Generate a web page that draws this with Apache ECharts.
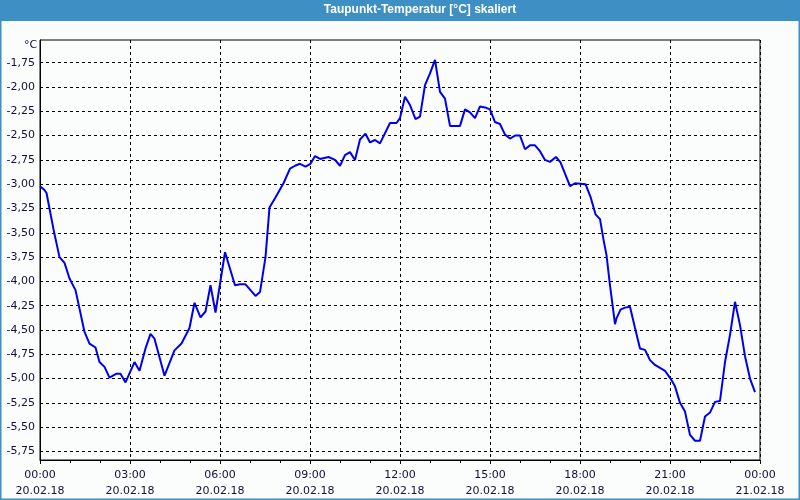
<!DOCTYPE html>
<html>
<head>
<meta charset="utf-8">
<script src="https://cdn.jsdelivr.net/npm/echarts@6/dist/echarts.min.js"></script>
<style>
html,body{margin:0;padding:0;background:#fbfdfc;}
#chart{width:800px;height:500px;}
</style>
</head>
<body>
<div id="chart"></div>
<script>
// minutes since 20.02.18 00:00
const times = [0,9,13,19,28,39,49,59,71,79,89,99,111,119,129,139,153,161,171,189,199,211,221,229,249,269,283,299,309,321,331,341,351,370,
390,400,411,431,440,451,459,470,487,500,510,520,531,541,550,560,577,590,600,610,620,630,640,651,660,670,680,700,713,
720,730,740,751,760,770,780,790,800,810,820,830,840,850,860,870,880,890,900,910,920,930,940,950,960,970,980,990,1000,1010,1020,1032,1041,1050,1060,1070,
1091,1101,1111,1120,1127,1133,1140,1145,1150,1153,1161,1170,1180,1190,1200,1210,1220,1230,1240,1250,1261,1270,1280,1290,1300,1310,1320,1330,1340,1350,1360,1370,1380,1390,1400,1410,1420,1430];
const values = [-3.02,-3.06,-3.09,-3.25,-3.49,-3.75,-3.81,-3.97,-4.09,-4.28,-4.52,-4.64,-4.68,-4.83,-4.88,-4.99,-4.95,-4.95,-5.04,-4.83,-4.92,-4.69,-4.54,-4.59,-4.97,-4.71,-4.64,-4.48,-4.22,-4.37,-4.31,-4.04,-4.32,-3.70,
-4.04,-4.03,-4.03,-4.15,-4.11,-3.75,-3.24,-3.145,-2.99,-2.84,-2.81,-2.79,-2.82,-2.79,-2.71,-2.74,-2.72,-2.75,-2.81,-2.70,-2.67,-2.75,-2.54,-2.48,-2.57,-2.545,-2.58,-2.37,-2.37,
-2.32,-2.10,-2.185,-2.33,-2.305,-1.98,-1.86,-1.72,-2.05,-2.12,-2.40,-2.40,-2.40,-2.23,-2.26,-2.32,-2.20,-2.21,-2.23,-2.36,-2.38,-2.49,-2.53,-2.50,-2.50,-2.64,-2.60,-2.60,-2.66,-2.75,-2.77,-2.72,-2.775,-2.89,-3.02,-2.99,
-3.00,-3.13,-3.31,-3.36,-3.57,-3.73,-4.04,-4.24,-4.44,-4.38,-4.29,-4.27,-4.26,-4.48,-4.69,-4.705,-4.81,-4.86,-4.89,-4.92,-5.00,-5.08,-5.25,-5.34,-5.58,-5.64,-5.64,-5.39,-5.35,-5.24,-5.23,-4.83,-4.55,-4.21,-4.45,-4.77,-5.00,-5.14];
const yTicks = [-5.75,-5.5,-5.25,-5.0,-4.75,-4.5,-4.25,-4.0,-3.75,-3.5,-3.25,-3.0,-2.75,-2.5,-2.25,-2.0,-1.75];
const xTickLabels = {0:'00:00\n20.02.18',180:'03:00\n20.02.18',360:'06:00\n20.02.18',540:'09:00\n20.02.18',720:'12:00\n20.02.18',900:'15:00\n20.02.18',1080:'18:00\n20.02.18',1260:'21:00\n20.02.18',1440:'00:00\n21.02.18'};
const titleText = 'Taupunkt-Temperatur [°C] skaliert';

const data = times.map((t,i)=>[t, values[i]]);
const FONT = 'DejaVu Sans';
const chart = echarts.init(document.getElementById('chart'), null, {renderer:'canvas'});
chart.setOption({
  animation:false,
  backgroundColor:'#fbfdfc',
  graphic:[
    {type:'rect', x:0, y:0, shape:{width:800,height:21}, style:{fill:'#3d8fc4'}, silent:true},
    {type:'rect', x:0, y:0, shape:{x:0.5,y:0.5,width:799,height:499}, style:{fill:'none', stroke:'#3d8fc4', lineWidth:2}, silent:true},
    {type:'text', x:420, y:4, style:{text:titleText, fill:'#ffffff', font:'bold 12px "Liberation Sans"', align:'center', verticalAlign:'top'}, silent:true},
    {type:'text', x:24, y:40, style:{text:'°C', fill:'#10103a', font:'11px "DejaVu Sans"'}, silent:true}
  ],
  grid:{left:40, right:40, top:40, bottom:40, show:true, borderColor:'#000', borderWidth:1, backgroundColor:'transparent'},
  xAxis:{
    type:'value', min:0, max:1440, interval:180,
    axisLine:{show:true, lineStyle:{color:'#000', width:1}},
    axisTick:{show:true, length:4, lineStyle:{color:'#000'}},
    minorTick:{show:true, splitNumber:3, length:3, lineStyle:{color:'#000'}},
    splitLine:{show:true, lineStyle:{color:'#000', type:[3,3], width:1}},
    axisLabel:{show:true, showMinLabel:true, showMaxLabel:true, margin:7, fontFamily:FONT, fontSize:11, color:'#10103a', lineHeight:16,
      formatter:v=>xTickLabels[v] || ''}
  },
  yAxis:{
    type:'value', min:-5.838, max:-1.516,
    axisLine:{show:true, lineStyle:{color:'#000', width:1}},
    axisTick:{show:false, customValues:yTicks},
    splitLine:{show:true, lineStyle:{color:'#000', type:[3,3], width:1}},
    axisLabel:{show:true, customValues:yTicks, margin:5, fontFamily:FONT, fontSize:11, color:'#10103a',
      formatter:v=>v.toFixed(2).replace('.', ',')}
  },
  series:[{
    type:'line', data:data, showSymbol:false, smooth:false,
    lineStyle:{color:'#0000f0', width:2}, clip:true
  }]
});
</script>
</body>
</html>
